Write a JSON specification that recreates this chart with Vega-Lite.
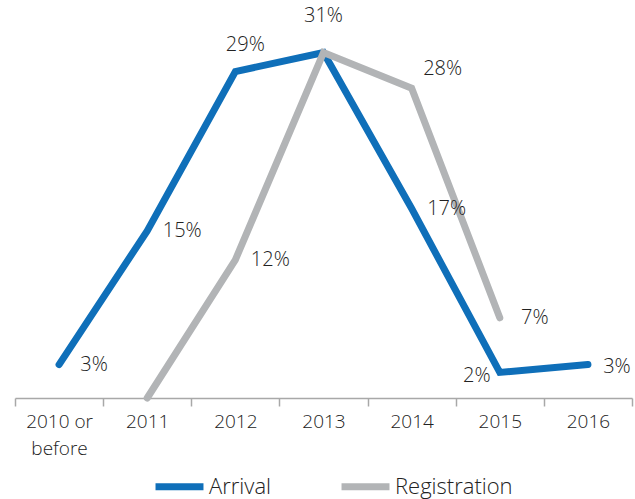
{
  "$schema": "https://vega.github.io/schema/vega-lite/v6.json",
  "width": 617,
  "height": 390,
  "autosize": {"type": "none"},
  "padding": {"left": 15, "top": 8, "right": 3, "bottom": 101},
  "config": {"view": {"stroke": null}, "font": "Open Sans"},
  "data": {
    "values": [
      {"year": "2010 or before", "series": "Arrival", "value": 0.03},
      {"year": "2011", "series": "Arrival", "value": 0.15},
      {"year": "2012", "series": "Arrival", "value": 0.293},
      {"year": "2013", "series": "Arrival", "value": 0.31},
      {"year": "2014", "series": "Arrival", "value": 0.17},
      {"year": "2015", "series": "Arrival", "value": 0.023},
      {"year": "2016", "series": "Arrival", "value": 0.03},
      {"year": "2011", "series": "Registration", "value": 0},
      {"year": "2012", "series": "Registration", "value": 0.124},
      {"year": "2013", "series": "Registration", "value": 0.31},
      {"year": "2014", "series": "Registration", "value": 0.278},
      {"year": "2015", "series": "Registration", "value": 0.072}
    ]
  },
  "encoding": {
    "x": {
      "field": "year",
      "type": "ordinal",
      "sort": ["2010 or before", "2011", "2012", "2013", "2014", "2015", "2016"],
      "scale": {"paddingInner": 0, "paddingOuter": 0},
      "axis": {
        "title": null,
        "tickBand": "extent",
        "domainColor": "#a8a8a8",
        "tickColor": "#a8a8a8",
        "domainWidth": 1.5,
        "tickWidth": 1.5,
        "tickSize": 8,
        "labelAngle": 0,
        "labelFontSize": 19,
        "labelFontWeight": 300,
        "labelColor": "#222222",
        "labelPadding": 6,
        "labelLineHeight": 27,
        "labelExpr": "datum.value == '2010 or before' ? ['2010 or', 'before'] : datum.value"
      }
    },
    "y": {
      "field": "value",
      "type": "quantitative",
      "scale": {"domain": [0, 0.35]},
      "axis": null
    }
  },
  "layer": [
    {
      "mark": {"type": "line", "strokeWidth": 7, "strokeCap": "round"},
      "encoding": {
        "color": {
          "field": "series",
          "type": "nominal",
          "scale": {"domain": ["Arrival", "Registration"], "range": ["#0f6fb9", "#b2b4b6"]},
          "legend": {
            "title": null,
            "orient": "none",
            "legendX": 137,
            "legendY": 451,
            "direction": "horizontal",
            "symbolType": "stroke",
            "symbolSize": 2300,
            "symbolStrokeWidth": 7,
            "labelFontSize": 22,
            "labelFontWeight": 300,
            "labelColor": "#222222",
            "labelOffset": 2,
            "columnPadding": 55
          }
        }
      }
    },
    {
      "transform": [
        {"filter": "!(datum.series == 'Arrival' && (datum.year == '2013' || datum.year == '2012' || datum.year == '2015' || datum.year == '2016')) && !(datum.series == 'Registration' && (datum.year == '2011' || datum.year == '2013' || datum.year == '2014'))"}
      ],
      "mark": {"type": "text", "dx": 35, "fontSize": 20, "fontWeight": 300, "color": "#222222", "baseline": "middle"},
      "encoding": {"text": {"field": "value", "type": "quantitative", "format": ".0%"}}
    },
    {
      "transform": [{"filter": "datum.series == 'Arrival' && datum.year == '2016'"}],
      "mark": {"type": "text", "dx": 29, "dy": 2, "fontSize": 20, "fontWeight": 300, "color": "#222222", "baseline": "middle"},
      "encoding": {"text": {"field": "value", "type": "quantitative", "format": ".0%"}}
    },
    {
      "transform": [{"filter": "datum.series == 'Arrival' && datum.year == '2012'"}],
      "mark": {"type": "text", "dx": 10, "dy": -27, "fontSize": 20, "fontWeight": 300, "color": "#222222", "baseline": "middle"},
      "encoding": {"text": {"field": "value", "type": "quantitative", "format": ".0%"}}
    },
    {
      "transform": [{"filter": "datum.series == 'Registration' && datum.year == '2013'"}],
      "mark": {"type": "text", "dx": 0, "dy": -37, "fontSize": 20, "fontWeight": 300, "color": "#222222", "baseline": "middle"},
      "encoding": {"text": {"field": "value", "type": "quantitative", "format": ".0%"}}
    },
    {
      "transform": [{"filter": "datum.series == 'Registration' && datum.year == '2014'"}],
      "mark": {"type": "text", "dx": 31, "dy": -19, "fontSize": 20, "fontWeight": 300, "color": "#222222", "baseline": "middle"},
      "encoding": {"text": {"field": "value", "type": "quantitative", "format": ".0%"}}
    },
    {
      "transform": [{"filter": "datum.series == 'Arrival' && datum.year == '2015'"}],
      "mark": {"type": "text", "dx": -23, "dy": 4, "fontSize": 20, "fontWeight": 300, "color": "#222222", "baseline": "middle"},
      "encoding": {"text": {"field": "value", "type": "quantitative", "format": ".0%"}}
    }
  ]
}
